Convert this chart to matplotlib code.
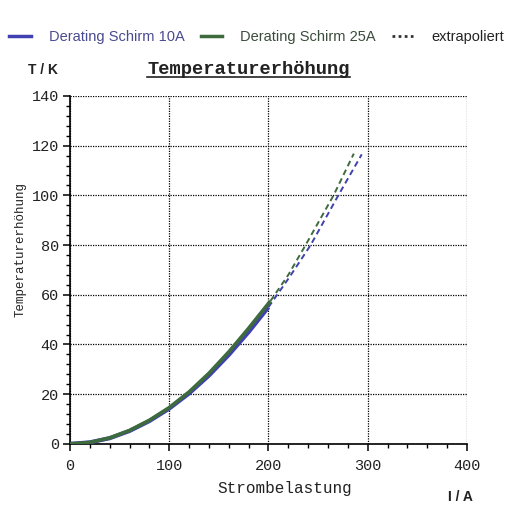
import matplotlib.pyplot as plt
from matplotlib.lines import Line2D
from matplotlib.ticker import MultipleLocator

# Messwerte (Strom in A, Temperaturerhoehung in K)
strom_10a = [0, 20, 40, 60, 80, 100, 120, 140, 160, 180, 200]
temp_10a = [0, 0.6, 2.3, 5.2, 9.2, 14.2, 20.3, 27.5, 35.8, 45.0, 55.0]
strom_25a = [0, 20, 40, 60, 80, 100, 120, 140, 160, 180, 202]
temp_25a = [0, 0.6, 2.4, 5.4, 9.5, 14.6, 20.9, 28.4, 37.0, 46.5, 57.5]

# extrapolierte Verlaeufe
strom_10a_ex = [200, 221, 242.5, 270.4, 294]
temp_10a_ex = [55.0, 67.0, 80.0, 100.0, 116.5]
strom_25a_ex = [202, 220, 237.4, 265.6, 286]
temp_25a_ex = [57.5, 68.0, 80.0, 100.0, 116.8]

blau = '#4040b0'
gruen = '#3d6b3d'
mono = 'Liberation Mono'
sans = 'Liberation Sans'

fig = plt.figure(figsize=(5.07, 5.05), dpi=100)
ax = fig.add_axes([0.138, 0.121, 0.783, 0.689])

ax.plot(strom_10a, temp_10a, color=blau, lw=3, solid_capstyle='butt', zorder=3)
ax.plot(strom_25a, temp_25a, color=gruen, lw=2.6, solid_capstyle='butt', zorder=4)
ax.plot(strom_10a_ex, temp_10a_ex, color=blau, lw=1.4, ls=(0, (3, 2)), zorder=3)
ax.plot(strom_25a_ex, temp_25a_ex, color=gruen, lw=1.4, ls=(0, (3, 2)), zorder=3)

ax.set_xlim(0, 400)
ax.set_ylim(0, 140)
ax.xaxis.set_major_locator(MultipleLocator(100))
ax.xaxis.set_minor_locator(MultipleLocator(20))
ax.yaxis.set_major_locator(MultipleLocator(20))
ax.yaxis.set_minor_locator(MultipleLocator(4))
ax.grid(True, which='major', color='black', ls=(0, (1, 1)), lw=0.9)
ax.spines['top'].set_visible(False)
ax.spines['right'].set_visible(False)
ax.spines['left'].set_linewidth(1.2)
ax.spines['bottom'].set_linewidth(1.2)
ax.tick_params(which='major', length=5, width=1.1, direction='out', labelsize=11, pad=3)
ax.tick_params(which='minor', length=3, width=1.0, direction='out')
ax.tick_params(axis='x', pad=6)
for lab in ax.get_xticklabels() + ax.get_yticklabels():
    lab.set_fontfamily(mono)
    lab.set_color('#222222')

fig.text(0.562, 0.033, 'Strombelastung', family=mono, fontsize=11.5,
         ha='center', va='center', color='#222222')
fig.text(0.040, 0.505, 'Temperaturerhöhung', family=mono, fontsize=9,
         rotation=90, ha='center', va='center', color='#222222')
fig.text(0.085, 0.861, 'T / K', family=sans, fontsize=10, weight='bold',
         ha='center', va='center', color='#222222')
fig.text(0.908, 0.015, 'I / A', family=sans, fontsize=10, weight='bold',
         ha='center', va='center', color='#222222')

titel = fig.text(0.49, 0.862, 'Temperaturerhöhung', family=mono, fontsize=13.5,
                 weight='bold', ha='center', va='center', color='#222222')
fig.canvas.draw()
bb = titel.get_window_extent().transformed(fig.transFigure.inverted())
fig.add_artist(Line2D([bb.x0, bb.x1], [bb.y0 + 0.002, bb.y0 + 0.002],
                      color='#222222', lw=1.2, transform=fig.transFigure))

handles = [
    Line2D([], [], color=blau, lw=2.5),
    Line2D([], [], color=gruen, lw=2.5),
    Line2D([], [], color='#333333', lw=2, ls=(0, (1, 1.2))),
]
labels = ['Derating Schirm 10A', 'Derating Schirm 25A', 'extrapoliert']
fig.legend(handles, labels, loc='center', bbox_to_anchor=(0.506, 0.927), ncol=3,
           frameon=False, prop={'family': sans, 'size': 10.5},
           handlelength=1.5, handletextpad=1.2, columnspacing=1.1,
           labelcolor=['#4a4a90', '#3c4c3c', '#222222'])

fig.savefig('out.png', dpi=100, facecolor='white')
